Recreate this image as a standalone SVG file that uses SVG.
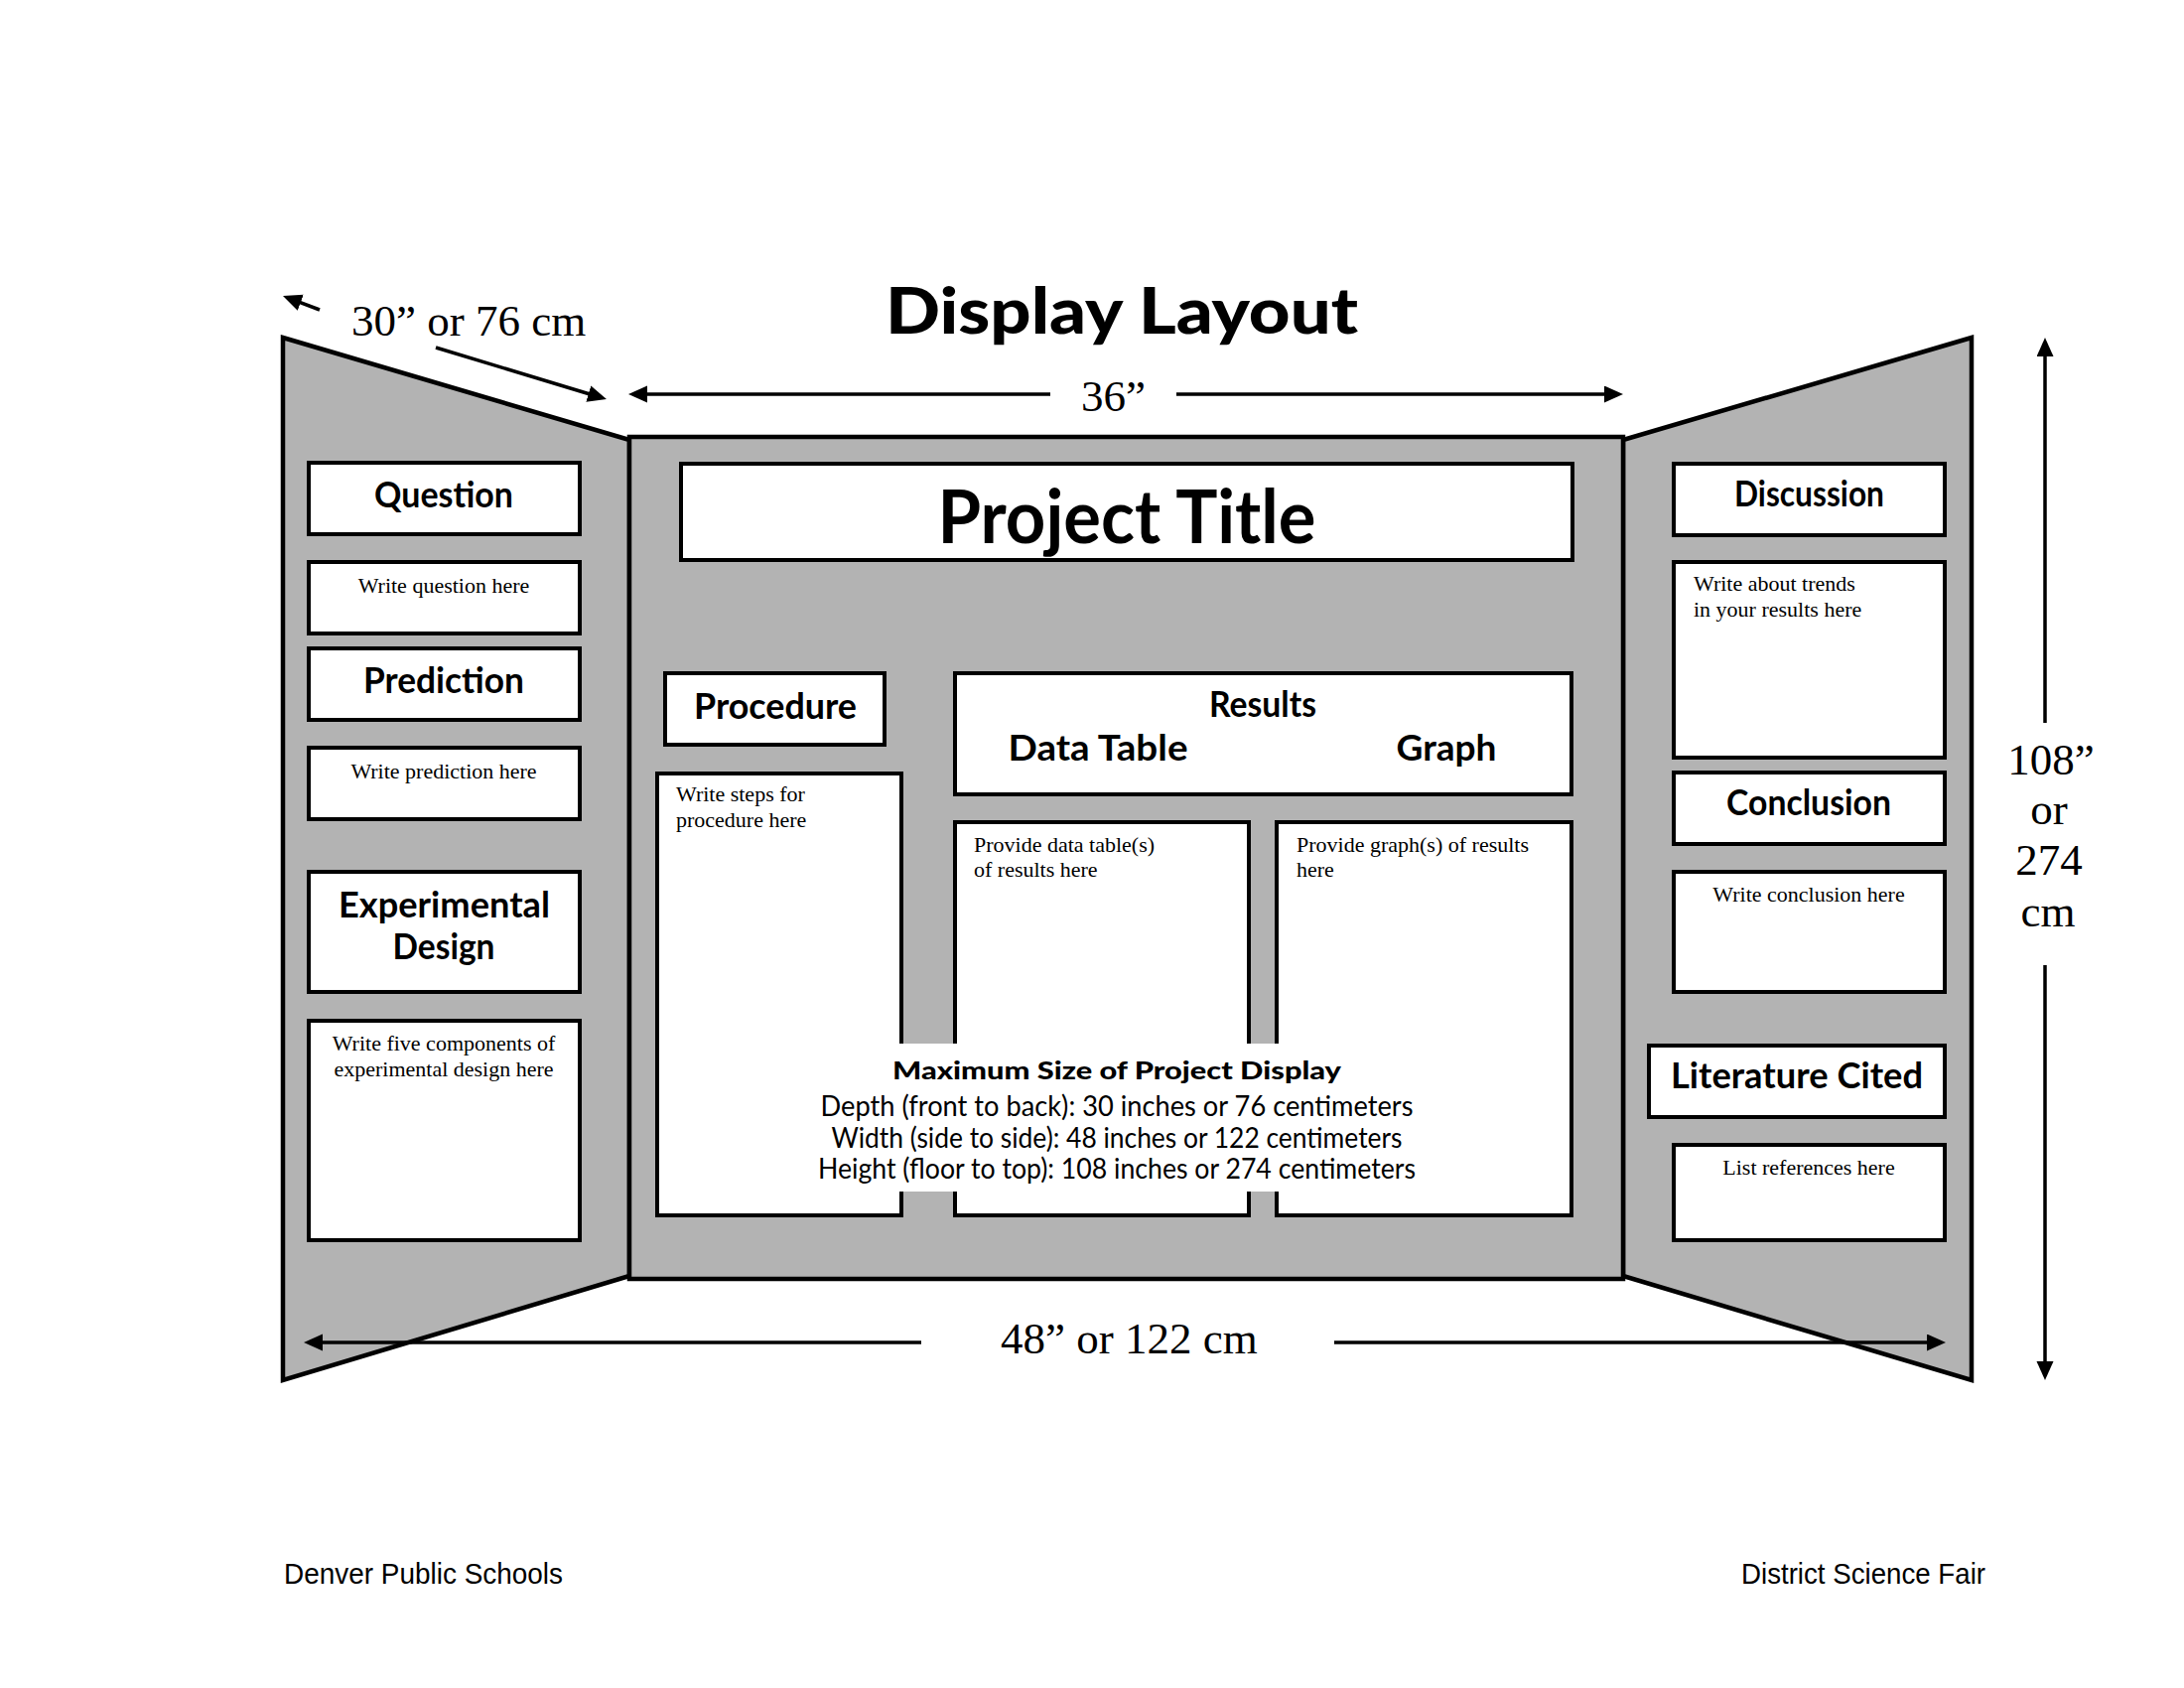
<svg xmlns="http://www.w3.org/2000/svg" width="2200" height="1700" viewBox="0 0 2200 1700">
<style>
.panel{fill:#b3b3b3;stroke:#000;stroke-width:4.5;stroke-linejoin:miter}
.box{fill:#fff;stroke:#000;stroke-width:4}
.head{font-family:Lato,"Open Sans","Liberation Sans",sans-serif;font-weight:700;font-size:36px;text-anchor:middle;fill:#000}
.big{font-size:75px}
.note{font-family:"Liberation Serif",serif;font-size:22px;fill:#000}
.mid{text-anchor:middle}
.dim{font-family:"Liberation Serif",serif;font-size:45px;fill:#000}
.dimline{stroke:#000;stroke-width:3.5;fill:none;marker-end:url(#ah)}
.heavy{font-family:Lato,Inter,Roboto,"DejaVu Sans",sans-serif;font-weight:900;text-anchor:middle;fill:#000}
.spec{font-family:Lato,"Open Sans","Liberation Sans",sans-serif;font-size:28px;text-anchor:middle;fill:#000}
.foot{font-family:"Liberation Sans",Arial,sans-serif;font-size:29px;fill:#000}
</style>
<defs>
<marker id="ah" markerUnits="userSpaceOnUse" markerWidth="20" markerHeight="18" refX="11" refY="8.5" orient="auto">
<path d="M0,0 L19,8.5 L0,17 z" fill="#000"/>
</marker>
</defs>
<rect width="2200" height="1700" fill="#fff"/>

<text class="heavy" x="1130" y="336" font-size="64" textLength="476" lengthAdjust="spacingAndGlyphs">Display Layout</text>

<g id="left-panel">
<polygon class="panel" points="285,340 634,443 634,1285 285,1390"/>
</g>
<g id="right-panel">
<polygon class="panel" points="1986,340 1635,443 1635,1285 1986,1390"/>
</g>
<g id="center-panel">
<rect class="panel" x="634" y="440" width="1001" height="848"/>
</g>

<g id="question">
<rect class="box" x="311" y="466" width="273" height="72"/>
<text class="head" x="447" y="511" textLength="140" lengthAdjust="spacingAndGlyphs">Question</text>
</g>
<g id="question-text">
<rect class="box" x="311" y="566" width="273" height="72"/>
<text class="note mid" x="447" y="597">Write question here</text>
</g>
<g id="prediction">
<rect class="box" x="311" y="653" width="273" height="72"/>
<text class="head" x="447" y="698" textLength="162" lengthAdjust="spacingAndGlyphs">Prediction</text>
</g>
<g id="prediction-text">
<rect class="box" x="311" y="753" width="273" height="72"/>
<text class="note mid" x="447" y="784">Write prediction here</text>
</g>
<g id="experimental-design">
<rect class="box" x="311" y="878" width="273" height="121"/>
<text class="head" x="447.5" y="924" textLength="213" lengthAdjust="spacingAndGlyphs">Experimental</text>
<text class="head" x="447" y="966" textLength="103" lengthAdjust="spacingAndGlyphs">Design</text>
</g>
<g id="experimental-design-text">
<rect class="box" x="311" y="1028" width="273" height="221"/>
<text class="note mid" x="447" y="1058">Write five components of</text>
<text class="note mid" x="447" y="1084">experimental design here</text>
</g>

<g id="project-title">
<rect class="box" x="686" y="467" width="898" height="97"/>
<text class="head big" x="1135" y="547" textLength="381" lengthAdjust="spacingAndGlyphs">Project Title</text>
</g>
<g id="procedure">
<rect class="box" x="670" y="678" width="221" height="72"/>
<text class="head" x="781" y="724" textLength="164" lengthAdjust="spacingAndGlyphs">Procedure</text>
</g>
<g id="results">
<rect class="box" x="962" y="678" width="621" height="122"/>
<text class="head" x="1272" y="722" textLength="108" lengthAdjust="spacingAndGlyphs">Results</text>
<text class="head" x="1106" y="766" textLength="181" lengthAdjust="spacingAndGlyphs">Data Table</text>
<text class="head" x="1457" y="766" textLength="101" lengthAdjust="spacingAndGlyphs">Graph</text>
</g>
<g id="procedure-text">
<rect class="box" x="662" y="779" width="246" height="445"/>
<text class="note" x="681" y="807">Write steps for</text>
<text class="note" x="681" y="833">procedure here</text>
</g>
<g id="data-table-text">
<rect class="box" x="962" y="828" width="296" height="396"/>
<text class="note" x="981" y="858">Provide data table(s)</text>
<text class="note" x="981" y="883">of results here</text>
</g>
<g id="graph-text">
<rect class="box" x="1286" y="828" width="297" height="396"/>
<text class="note" x="1306" y="858">Provide graph(s) of results</text>
<text class="note" x="1306" y="883">here</text>
</g>
<g id="maximum-size">
<rect x="820" y="1051" width="610" height="149" fill="#fff"/>
<text class="heavy" x="1125" y="1087" font-size="25" textLength="452" lengthAdjust="spacingAndGlyphs">Maximum Size of Project Display</text>
<text class="spec" x="1125" y="1124" textLength="597" lengthAdjust="spacingAndGlyphs">Depth (front to back): 30 inches or 76 centimeters</text>
<text class="spec" x="1125" y="1156" textLength="575" lengthAdjust="spacingAndGlyphs">Width (side to side): 48 inches or 122 centimeters</text>
<text class="spec" x="1125" y="1187" textLength="602" lengthAdjust="spacingAndGlyphs">Height (floor to top): 108 inches or 274 centimeters</text>
</g>

<g id="discussion">
<rect class="box" x="1686" y="467" width="273" height="72"/>
<text class="head" x="1822.5" y="510" textLength="151" lengthAdjust="spacingAndGlyphs">Discussion</text>
</g>
<g id="discussion-text">
<rect class="box" x="1686" y="566" width="273" height="197"/>
<text class="note" x="1706" y="595">Write about trends</text>
<text class="note" x="1706" y="621">in your results here</text>
</g>
<g id="conclusion">
<rect class="box" x="1686" y="778" width="273" height="72"/>
<text class="head" x="1822" y="821" textLength="166" lengthAdjust="spacingAndGlyphs">Conclusion</text>
</g>
<g id="conclusion-text">
<rect class="box" x="1686" y="878" width="273" height="121"/>
<text class="note mid" x="1822" y="908">Write conclusion here</text>
</g>
<g id="literature-cited">
<rect class="box" x="1661" y="1053" width="298" height="72"/>
<text class="head" x="1810" y="1096" textLength="254" lengthAdjust="spacingAndGlyphs">Literature Cited</text>
</g>
<g id="literature-text">
<rect class="box" x="1686" y="1153" width="273" height="96"/>
<text class="note mid" x="1822" y="1183">List references here</text>
</g>

<g id="connectors">
<line class="dimline" x1="322" y1="312" x2="292.5" y2="300.8"/>
<line class="dimline" x1="439" y1="350" x2="603.3" y2="399.7"/>
<line class="dimline" x1="1058" y1="397" x2="641" y2="397"/>
<line class="dimline" x1="1185" y1="397" x2="1627" y2="397"/>
<line class="dimline" x1="928" y1="1352" x2="314" y2="1352"/>
<line class="dimline" x1="1344" y1="1352" x2="1952" y2="1352"/>
<line class="dimline" x1="2060" y1="728" x2="2060" y2="348"/>
<line class="dimline" x1="2060" y1="972" x2="2060" y2="1382"/>
</g>

<g id="dimension-labels">
<text class="dim" x="354" y="338">30&#8221; or 76 cm</text>
<text class="dim" x="1089" y="414">36&#8221;</text>
<text class="dim" x="1008" y="1363">48&#8221; or 122 cm</text>
<text class="dim mid" x="2066" y="780">108&#8221;</text>
<text class="dim mid" x="2064" y="830">or</text>
<text class="dim mid" x="2064" y="881">274</text>
<text class="dim mid" x="2063" y="933">cm</text>
</g>

<text class="foot" x="286" y="1595" textLength="281" lengthAdjust="spacingAndGlyphs">Denver Public Schools</text>
<text class="foot" x="2000" y="1595" text-anchor="end" textLength="246" lengthAdjust="spacingAndGlyphs">District Science Fair</text>
</svg>
